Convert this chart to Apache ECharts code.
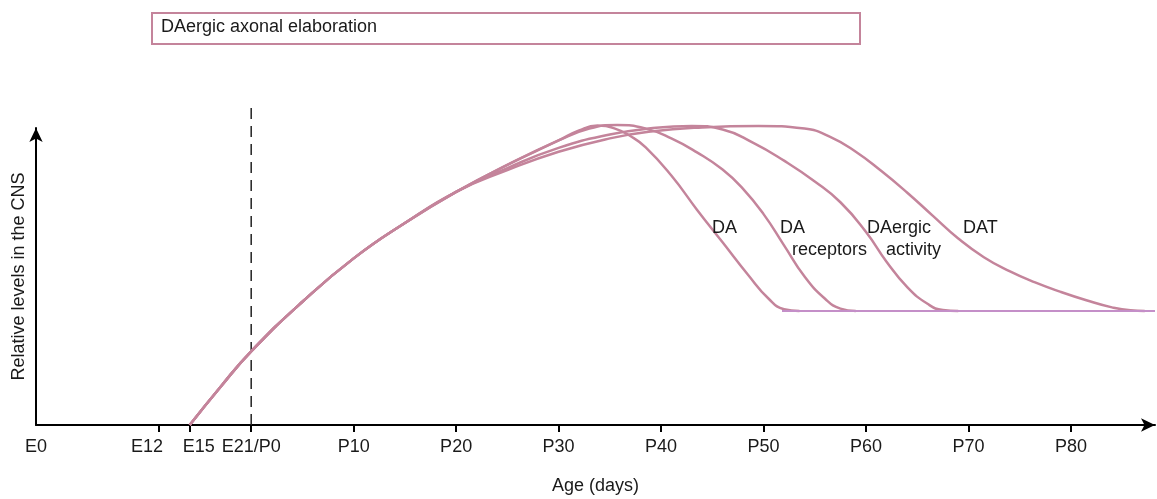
<!DOCTYPE html>
<html>
<head>
<meta charset="utf-8">
<title>DAergic development</title>
<script src="https://cdn.jsdelivr.net/npm/echarts@6/dist/echarts.min.js"></script>
<style>
	html, body { margin: 0; padding: 0; background: #fff; }
	#chart { width: 1157px; height: 499px; }
</style>
</head>
<body>
<div id="chart"></div>
<script>
// x = age in days counted from E0 (E21 = P0), y = relative level
var tickDays = [0, 12, 15, 21, 31, 41, 51, 61, 71, 81, 91, 101];
var tickLabels = ['E0', 'E12', 'E15', 'E21/P0', 'P10', 'P20', 'P30', 'P40', 'P50', 'P60', 'P70', 'P80'];

// common rising part (all four curves)
var riseShared = [[15, 0], [18, 12.8], [21, 24.8], [26, 41.5], [31, 56.1], [36, 68.0], [41, 78.5]];

var daCurve = [[46, 87.6], [51, 95.8], [53, 99.2], [54.8, 100.8], [56.5, 99.8], [58, 97.3], [59.5, 93.5],
	[62, 84.0], [64.5, 72.5], [67, 61.5], [69.5, 50.5], [71.5, 42.5], [73, 39.0], [74.5, 38.4]];
var receptorCurve = [[46, 87.6], [51, 95.8], [54, 99.8], [56.7, 101.0], [59.5, 99.8], [62, 96.5], [64.5, 91.8],
	[67, 86.0], [69, 79.5], [71, 71.0], [73, 60.5], [75, 50.0], [77, 42.5], [78.5, 39.2], [80, 38.4]];
var activityCurve = [[46, 86.5], [51, 93.3], [56, 97.8], [60, 99.9], [64, 100.7], [67, 99.5], [70, 95.0],
	[73, 89.0], [76, 82.0], [78.5, 75.0], [81, 65.0], [83, 55.0], [85, 46.5], [87, 40.8], [88.5, 38.7], [90, 38.4]];
var datCurve = [[46, 85.8], [51, 92.0], [56, 96.5], [60, 98.8], [65, 100.2], [70.5, 100.7], [75, 99.8],
	[77.5, 97.0], [80, 92.0], [82.5, 85.5], [85, 78.3], [87.5, 70.5], [90, 62.8], [92.5, 56.5], [95, 51.8],
	[97.5, 48.0], [100, 44.8], [102.5, 42.0], [105, 39.6], [106.8, 38.6], [108.2, 38.4]];

var adultLevel = [[72.8, 38.4], [109.2, 38.4]];
var birthLine = [[21, 0], [21, 107.7]];

var curveNames = ['DA', 'DA receptors', 'DAergic activity', 'DAT'];

var myChart = echarts.init(document.getElementById('chart'));
var curveColor = '#c4849b';
var font = 'Liberation Sans';

function curve(name, tail) {
	return {
		name: name,
		type: 'line',
		data: riseShared.concat(tail),
		smooth: 0.5,
		showSymbol: false,
		clip: false,
		lineStyle: { color: curveColor, width: 2.5 }
	};
}

function txt(x, y, s) {
	return {
		type: 'text', left: x, top: y, z: 10,
		style: { text: s, font: '18px ' + font, fill: '#1a1a1a' }
	};
}

myChart.setOption({
	animation: false,
	grid: { left: 36, right: 2, top: 128, bottom: 74, outerBoundsMode: 'none' },
	xAxis: {
		type: 'value',
		min: 0,
		max: 109.2,
		name: 'Age (days)',
		nameLocation: 'middle',
		nameGap: 52,
		nameTextStyle: { fontFamily: font, fontSize: 18, color: '#1a1a1a' },
		axisLine: { lineStyle: { color: '#000', width: 2 }, symbol: ['none', 'arrow'], symbolSize: [10, 14] },
		axisTick: { show: true, customValues: tickDays.slice(1), length: 7, lineStyle: { color: '#000', width: 2 } },
		axisLabel: {
			customValues: tickDays,
			margin: 13,
			fontFamily: font, fontSize: 18, color: '#1a1a1a',
			formatter: function (v) {
				var s = tickLabels[tickDays.indexOf(v)];
				// E12 / E15 sit close together, push them apart
				if (v === 12) return '{l|' + s + '}';
				if (v === 15) return '{r|' + s + '}';
				return s;
			},
			rich: {
				l: { fontFamily: font, fontSize: 18, color: '#1a1a1a', padding: [0, 24, 0, 0] },
				r: { fontFamily: font, fontSize: 18, color: '#1a1a1a', padding: [0, 0, 0, 18] }
			}
		},
		splitLine: { show: false }
	},
	yAxis: {
		type: 'value',
		min: 0,
		max: 100,
		name: 'Relative levels in the CNS',
		nameLocation: 'middle',
		nameGap: 8,
		nameTextStyle: { fontFamily: font, fontSize: 18, color: '#1a1a1a' },
		axisLine: { show: true, lineStyle: { color: '#000', width: 2 }, symbol: ['none', 'arrow'], symbolSize: [10, 14] },
		axisTick: { show: false },
		axisLabel: { show: false },
		splitLine: { show: false }
	},
	series: [
		{
			type: 'line', data: birthLine, showSymbol: false, clip: false, silent: true,
			lineStyle: { color: '#222', width: 1.5, type: [11, 7] }
		},
		curve(curveNames[0], daCurve),
		curve(curveNames[1], receptorCurve),
		curve(curveNames[2], activityCurve),
		curve(curveNames[3], datCurve),
		{
			type: 'line', data: adultLevel, showSymbol: false, clip: false,
			lineStyle: { color: '#c48fc8', width: 2 }
		}
	],
	graphic: [
		{
			type: 'rect', left: 151, top: 12,
			shape: { width: 708, height: 31 },
			style: { fill: '#fff', stroke: '#c4849b', lineWidth: 2 }
		},
		txt(161, 18, 'DAergic axonal elaboration'),
		txt(712, 219, 'DA'),
		txt(780, 219, 'DA'),
		txt(792, 241, 'receptors'),
		txt(867, 219, 'DAergic'),
		txt(886, 241, 'activity'),
		txt(963, 219, 'DAT')
	]
});
</script>
</body>
</html>
